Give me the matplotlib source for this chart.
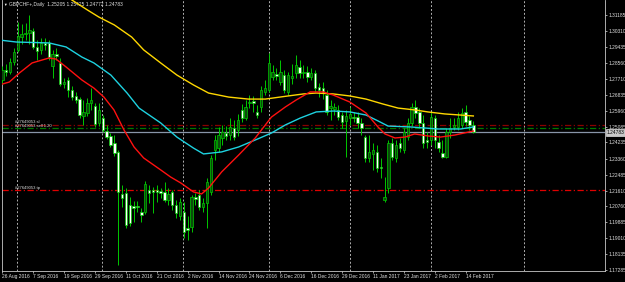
import matplotlib
matplotlib.use("Agg")
import matplotlib.pyplot as plt
import matplotlib.transforms as mtransforms

plt.rcParams["font.family"] = ["Liberation Sans", "DejaVu Sans"]

# GBPCHF+ daily candles, 26 Aug 2016 .. 16 Feb 2017
opens = [1.2764, 1.2819, 1.2808, 1.2862, 1.2928, 1.2998, 1.3015, 1.3020, 1.3031, 1.2944,
         1.2928, 1.2966, 1.2966, 1.2840, 1.2906, 1.2857, 1.2742, 1.2764, 1.2710, 1.2677,
         1.2660, 1.2568, 1.2584, 1.2639, 1.2622, 1.2530, 1.2557, 1.2486, 1.2459, 1.2421,
         1.2372, 1.2143, 1.2148, 1.2083, 1.2077, 1.2077, 1.2045, 1.2045, 1.2165, 1.2165,
         1.2165, 1.2159, 1.2154, 1.2110, 1.2154, 1.2083, 1.2023, 1.2045, 1.1957, 1.1963,
         1.2126, 1.2137, 1.2072, 1.2094, 1.2154, 1.2383, 1.2393, 1.2448, 1.2475, 1.2464,
         1.2502, 1.2492, 1.2601, 1.2557, 1.2639, 1.2650, 1.2590, 1.2617, 1.2699, 1.2710,
         1.2780, 1.2797, 1.2753, 1.2791, 1.2699, 1.2775, 1.2802, 1.2835, 1.2802, 1.2808,
         1.2780, 1.2802, 1.2726, 1.2720, 1.2682, 1.2611, 1.2606, 1.2601, 1.2573, 1.2541,
         1.2557, 1.2562, 1.2562, 1.2530, 1.2453, 1.2339, 1.2361, 1.2372, 1.2290, 1.2110,
         1.2175, 1.2421, 1.2339, 1.2421, 1.2383, 1.2453, 1.2530, 1.2617, 1.2590, 1.2530,
         1.2437, 1.2437, 1.2557, 1.2426, 1.2366, 1.2344, 1.2481, 1.2508, 1.2508, 1.2519,
         1.2590, 1.2546, 1.25205]
highs = [1.2840, 1.2851, 1.2884, 1.2938, 1.3080, 1.3069, 1.3075, 1.3118, 1.3047, 1.2982,
         1.2993, 1.2993, 1.2982, 1.2928, 1.2938, 1.2884, 1.2775, 1.2780, 1.2731, 1.2699,
         1.2671, 1.2655, 1.2666, 1.2720, 1.2639, 1.2639, 1.2573, 1.2519, 1.2475, 1.2464,
         1.2383, 1.2192, 1.2175, 1.2126, 1.2105, 1.2105, 1.2066, 1.2214, 1.2192, 1.2181,
         1.2192, 1.2175, 1.2208, 1.2175, 1.2165, 1.2110, 1.2121, 1.2099, 1.2023, 1.2137,
         1.2148, 1.2165, 1.2121, 1.2230, 1.2355, 1.2464, 1.2508, 1.2519, 1.2513, 1.2557,
         1.2546, 1.2579, 1.2633, 1.2655, 1.2682, 1.2677, 1.2628, 1.2731, 1.2764, 1.2911,
         1.2846, 1.2829, 1.2873, 1.2819, 1.2808, 1.2851, 1.2900, 1.2873, 1.2846, 1.2840,
         1.2829, 1.2819, 1.2748, 1.2753, 1.2710, 1.2655, 1.2639, 1.2628, 1.2590, 1.2601,
         1.2617, 1.2590, 1.2590, 1.2557, 1.2464, 1.2464, 1.2421, 1.2410, 1.2339, 1.2235,
         1.2437, 1.2448, 1.2437, 1.2448, 1.2502, 1.2557, 1.2639, 1.2655, 1.2611, 1.2573,
         1.2481, 1.2590, 1.2573, 1.2464, 1.2437, 1.2502, 1.2557, 1.2557, 1.2590, 1.2611,
         1.2628, 1.2568, 1.25425]
lows = [1.2742, 1.2786, 1.2797, 1.2846, 1.2917, 1.2960, 1.2982, 1.2960, 1.2933, 1.2873,
        1.2906, 1.2928, 1.2873, 1.2775, 1.2873, 1.2731, 1.2720, 1.2671, 1.2655, 1.2639,
        1.2557, 1.2519, 1.2568, 1.2601, 1.2508, 1.2513, 1.2481, 1.2442, 1.2399, 1.2350,
        1.1756, 1.2072, 1.1957, 1.1968, 1.1990, 1.2045, 1.1990, 1.2034, 1.2094, 1.2039,
        1.2099, 1.2121, 1.2099, 1.2083, 1.2056, 1.2012, 1.2001, 1.1903, 1.1892, 1.1936,
        1.2083, 1.2056, 1.2045, 1.1957, 1.2137, 1.2328, 1.2372, 1.2410, 1.2437, 1.2437,
        1.2437, 1.2459, 1.2535, 1.2546, 1.2611, 1.2590, 1.2557, 1.2590, 1.2682, 1.2699,
        1.2764, 1.2764, 1.2737, 1.2693, 1.2682, 1.2742, 1.2775, 1.2775, 1.2775, 1.2753,
        1.2764, 1.2699, 1.2671, 1.2660, 1.2573, 1.2546, 1.2573, 1.2546, 1.2502, 1.2344,
        1.2519, 1.2535, 1.2502, 1.2464, 1.2317, 1.2317, 1.2274, 1.2263, 1.2230, 1.2099,
        1.2148, 1.2328, 1.2317, 1.2372, 1.2366, 1.2437, 1.2513, 1.2557, 1.2502, 1.2393,
        1.2393, 1.2410, 1.2393, 1.2372, 1.2339, 1.2339, 1.2448, 1.2492, 1.2492, 1.2502,
        1.2513, 1.2492, 1.24772]
closes = [1.2819, 1.2808, 1.2862, 1.2917, 1.3004, 1.3015, 1.3020, 1.3037, 1.2944, 1.2922,
          1.2966, 1.2955, 1.2889, 1.2906, 1.2895, 1.2742, 1.2753, 1.2710, 1.2671, 1.2655,
          1.2573, 1.2590, 1.2639, 1.2655, 1.2524, 1.2601, 1.2492, 1.2453, 1.2410, 1.2366,
          1.2154, 1.2121, 1.1974, 1.1985, 1.2066, 1.2072, 1.2028, 1.2197, 1.2148, 1.2154,
          1.2154, 1.2148, 1.2110, 1.2143, 1.2083, 1.2039, 1.2099, 1.1936, 1.1947, 1.2126,
          1.2115, 1.2072, 1.2094, 1.2208, 1.2339, 1.2437, 1.2464, 1.2481, 1.2459, 1.2508,
          1.2453, 1.2546, 1.2557, 1.2617, 1.2644, 1.2639, 1.2573, 1.2710, 1.2720, 1.2857,
          1.2808, 1.2786, 1.2808, 1.2710, 1.2791, 1.2786, 1.2846, 1.2802, 1.2808, 1.2780,
          1.2802, 1.2720, 1.2710, 1.2693, 1.2590, 1.2622, 1.2617, 1.2562, 1.2535, 1.2568,
          1.2579, 1.2557, 1.2530, 1.2502, 1.2339, 1.2372, 1.2383, 1.2284, 1.2284, 1.2126,
          1.2421, 1.2344, 1.2410, 1.2393, 1.2481, 1.2530, 1.2617, 1.2584, 1.2530, 1.2421,
          1.2426, 1.2562, 1.2437, 1.2393, 1.2344, 1.2481, 1.2502, 1.2519, 1.2557, 1.2584,
          1.2535, 1.2519, 1.24783]

# moving averages, read at a few bars
yellow_bars = [17, 18, 22, 25, 29, 33.5, 36.6, 41, 45.2, 49.5, 53.4, 58.6, 63.7, 68.1,
               74, 78, 81.3, 85.7, 90, 94.2, 98.6, 102.5, 106.8, 110.2, 114.6, 122]
yellow_vals = [1.3216, 1.3200, 1.3146, 1.3107, 1.3064, 1.2998, 1.2928, 1.2857, 1.2791, 1.2737,
               1.2693, 1.2671, 1.2660, 1.2660, 1.2677, 1.2688, 1.2693, 1.2688, 1.2677, 1.2660,
               1.2633, 1.2611, 1.2601, 1.2590, 1.2579, 1.2568]
cyan_bars = [-0.8, 3.6, 12.1, 16.5, 20.6, 23.7, 28.1, 32.3, 35.4, 41, 45.2, 49.5, 52.1, 56.8,
             61.2, 65.5, 69.7, 73.3, 77.2, 81.3, 85.7, 90, 94.2, 97.3, 99.9, 105.8, 112.8,
             118.7, 122]
cyan_vals = [1.2982, 1.2971, 1.2966, 1.2944, 1.2889, 1.2857, 1.2791, 1.2693, 1.2611, 1.2530,
             1.2453, 1.2393, 1.2361, 1.2372, 1.2399, 1.2437, 1.2475, 1.2519, 1.2557, 1.2590,
             1.2595, 1.2590, 1.2573, 1.2541, 1.2513, 1.2508, 1.2497, 1.2497, 1.2508]
red_bars = [-0.8, 1.8, 4.4, 7.7, 12.1, 13.9, 16.5, 20.6, 23.7, 26.3, 28.9, 31.5, 34.1, 36.6,
            41, 43.6, 46.2, 49.5, 51.6, 53.4, 56.8, 61.2, 65.5, 69.7, 73.3, 76.1, 79.7, 83.1,
            85.7, 90, 94.2, 97.3, 99.1, 101.7, 104.3, 106.8, 110.2, 113.5, 117.2, 122]
red_vals = [1.2737, 1.2753, 1.2802, 1.2857, 1.2884, 1.2878, 1.2835, 1.2764, 1.2720, 1.2671,
            1.2601, 1.2492, 1.2399, 1.2339, 1.2274, 1.2235, 1.2203, 1.2154, 1.2143, 1.2175,
            1.2263, 1.2355, 1.2448, 1.2562, 1.2617, 1.2655, 1.2699, 1.2699, 1.2682, 1.2644,
            1.2584, 1.2508, 1.2470, 1.2448, 1.2453, 1.2470, 1.2459, 1.2453, 1.2464, 1.2486]

# open order lines
order_id = "#27649053"
sl_price = 1.2519
entry_price = 1.2503
tp_price = 1.2164

price_ticks = [1.31185, 1.30310, 1.29435, 1.28560, 1.27710, 1.26835, 1.25960, 1.25085,
               1.24235, 1.23360, 1.22485, 1.21610, 1.20760, 1.19885, 1.19010, 1.18135, 1.17285]
date_labels = ["26 Aug 2016", "7 Sep 2016", "19 Sep 2016", "29 Sep 2016", "11 Oct 2016",
               "21 Oct 2016", "2 Nov 2016", "14 Nov 2016", "24 Nov 2016", "6 Dec 2016",
               "16 Dec 2016", "29 Dec 2016", "11 Jan 2017", "23 Jan 2017", "2 Feb 2017",
               "14 Feb 2017"]
grid_bars = [3.75, 25.75, 46.75, 69, 90, 111, 135]

GREEN = "#00c800"
TXT = "#e0e0e0"
FS = 3.5

fig = plt.figure(figsize=(6.25, 2.82), dpi=100, facecolor="black")
ax = fig.add_axes([0.003, 0.039, 0.965, 0.961])
ax.set_facecolor("black")

for g in grid_bars:
    ax.axvline(g, color="#b0b0b0", lw=0.7, ls=(0, (2, 2)), zorder=1)

# order lines + bid line
ax.axhline(sl_price, color="#8b0000", lw=0.9, ls=(0, (5, 2, 1, 2)), zorder=2)
ax.axhline(entry_price, color="#007a00", lw=0.9, ls=(0, (5, 2, 1, 2)), zorder=2)
ax.axhline(tp_price, color="#e00000", lw=0.9, ls=(0, (5, 2, 1, 2)), zorder=2)
ax.axhline(closes[-1], color="#8895a8", lw=0.9, zorder=2)

# moving averages
ax.plot(yellow_bars, yellow_vals, color="#ffd700", lw=1.0, zorder=4)
ax.plot(cyan_bars, cyan_vals, color="#1ed2e0", lw=1.0, zorder=4)
ax.plot(red_bars, red_vals, color="#ff1010", lw=1.0, zorder=4)

# candles
x = list(range(len(opens)))
ax.vlines(x, lows, highs, color=GREEN, lw=0.7, zorder=3)
bot = [min(o, c) for o, c in zip(opens, closes)]
hgt = [max(abs(c - o), 0.0002) for o, c in zip(opens, closes)]
fc = ["#0b4a0b" if c >= o else "white" for o, c in zip(opens, closes)]
ax.bar(x, hgt, bottom=bot, width=0.62, color=fc, edgecolor=GREEN, linewidth=0.5, zorder=3)

ax.set_xlim(-0.13, 156.1)
ax.set_ylim(1.1723, 1.3200)

ax.yaxis.tick_right()
ax.set_yticks(price_ticks)
ax.set_yticklabels(["%.5f" % p for p in price_ticks])
ax.set_xticks(range(0, 8 * len(date_labels), 8))
ax.set_xticklabels(date_labels, ha="left")
ax.tick_params(axis="both", colors=TXT, labelsize=FS, length=1.5, width=0.5, pad=0.8)
for s in ["left", "right", "bottom"]:
    ax.spines[s].set_color("#c8c8c8")
    ax.spines[s].set_linewidth(0.6)
ax.spines["top"].set_visible(False)

# bid price box
trans = mtransforms.blended_transform_factory(ax.transAxes, ax.transData)
ax.text(1.002, closes[-1], "%.5f" % closes[-1], transform=trans, fontsize=FS, color="black",
        va="center", ha="left", bbox=dict(boxstyle="square,pad=0.12", fc="#c8c8c8", ec="white", lw=0.4))

# title and order labels
ax.text(0.002, 0.982, "\u25bc", transform=ax.transAxes, fontsize=2.6, color="white", va="center")
ax.text(0.012, 0.982, "GBPCHF+,Daily  1.25205 1.25425 1.24772 1.24783", transform=ax.transAxes,
        fontsize=FS, color=TXT, va="center")
ax.text(3.2, sl_price + 0.0003, order_id + " sl", fontsize=3.0, color=TXT, va="bottom")
ax.text(3.2, entry_price - 0.0001, order_id + " sell 1.20", fontsize=3.0, color=TXT, va="bottom")
ax.text(3.2, tp_price + 0.0003, order_id + " tp", fontsize=3.0, color=TXT, va="bottom")

fig.savefig("out.png", dpi=100, facecolor="black")
